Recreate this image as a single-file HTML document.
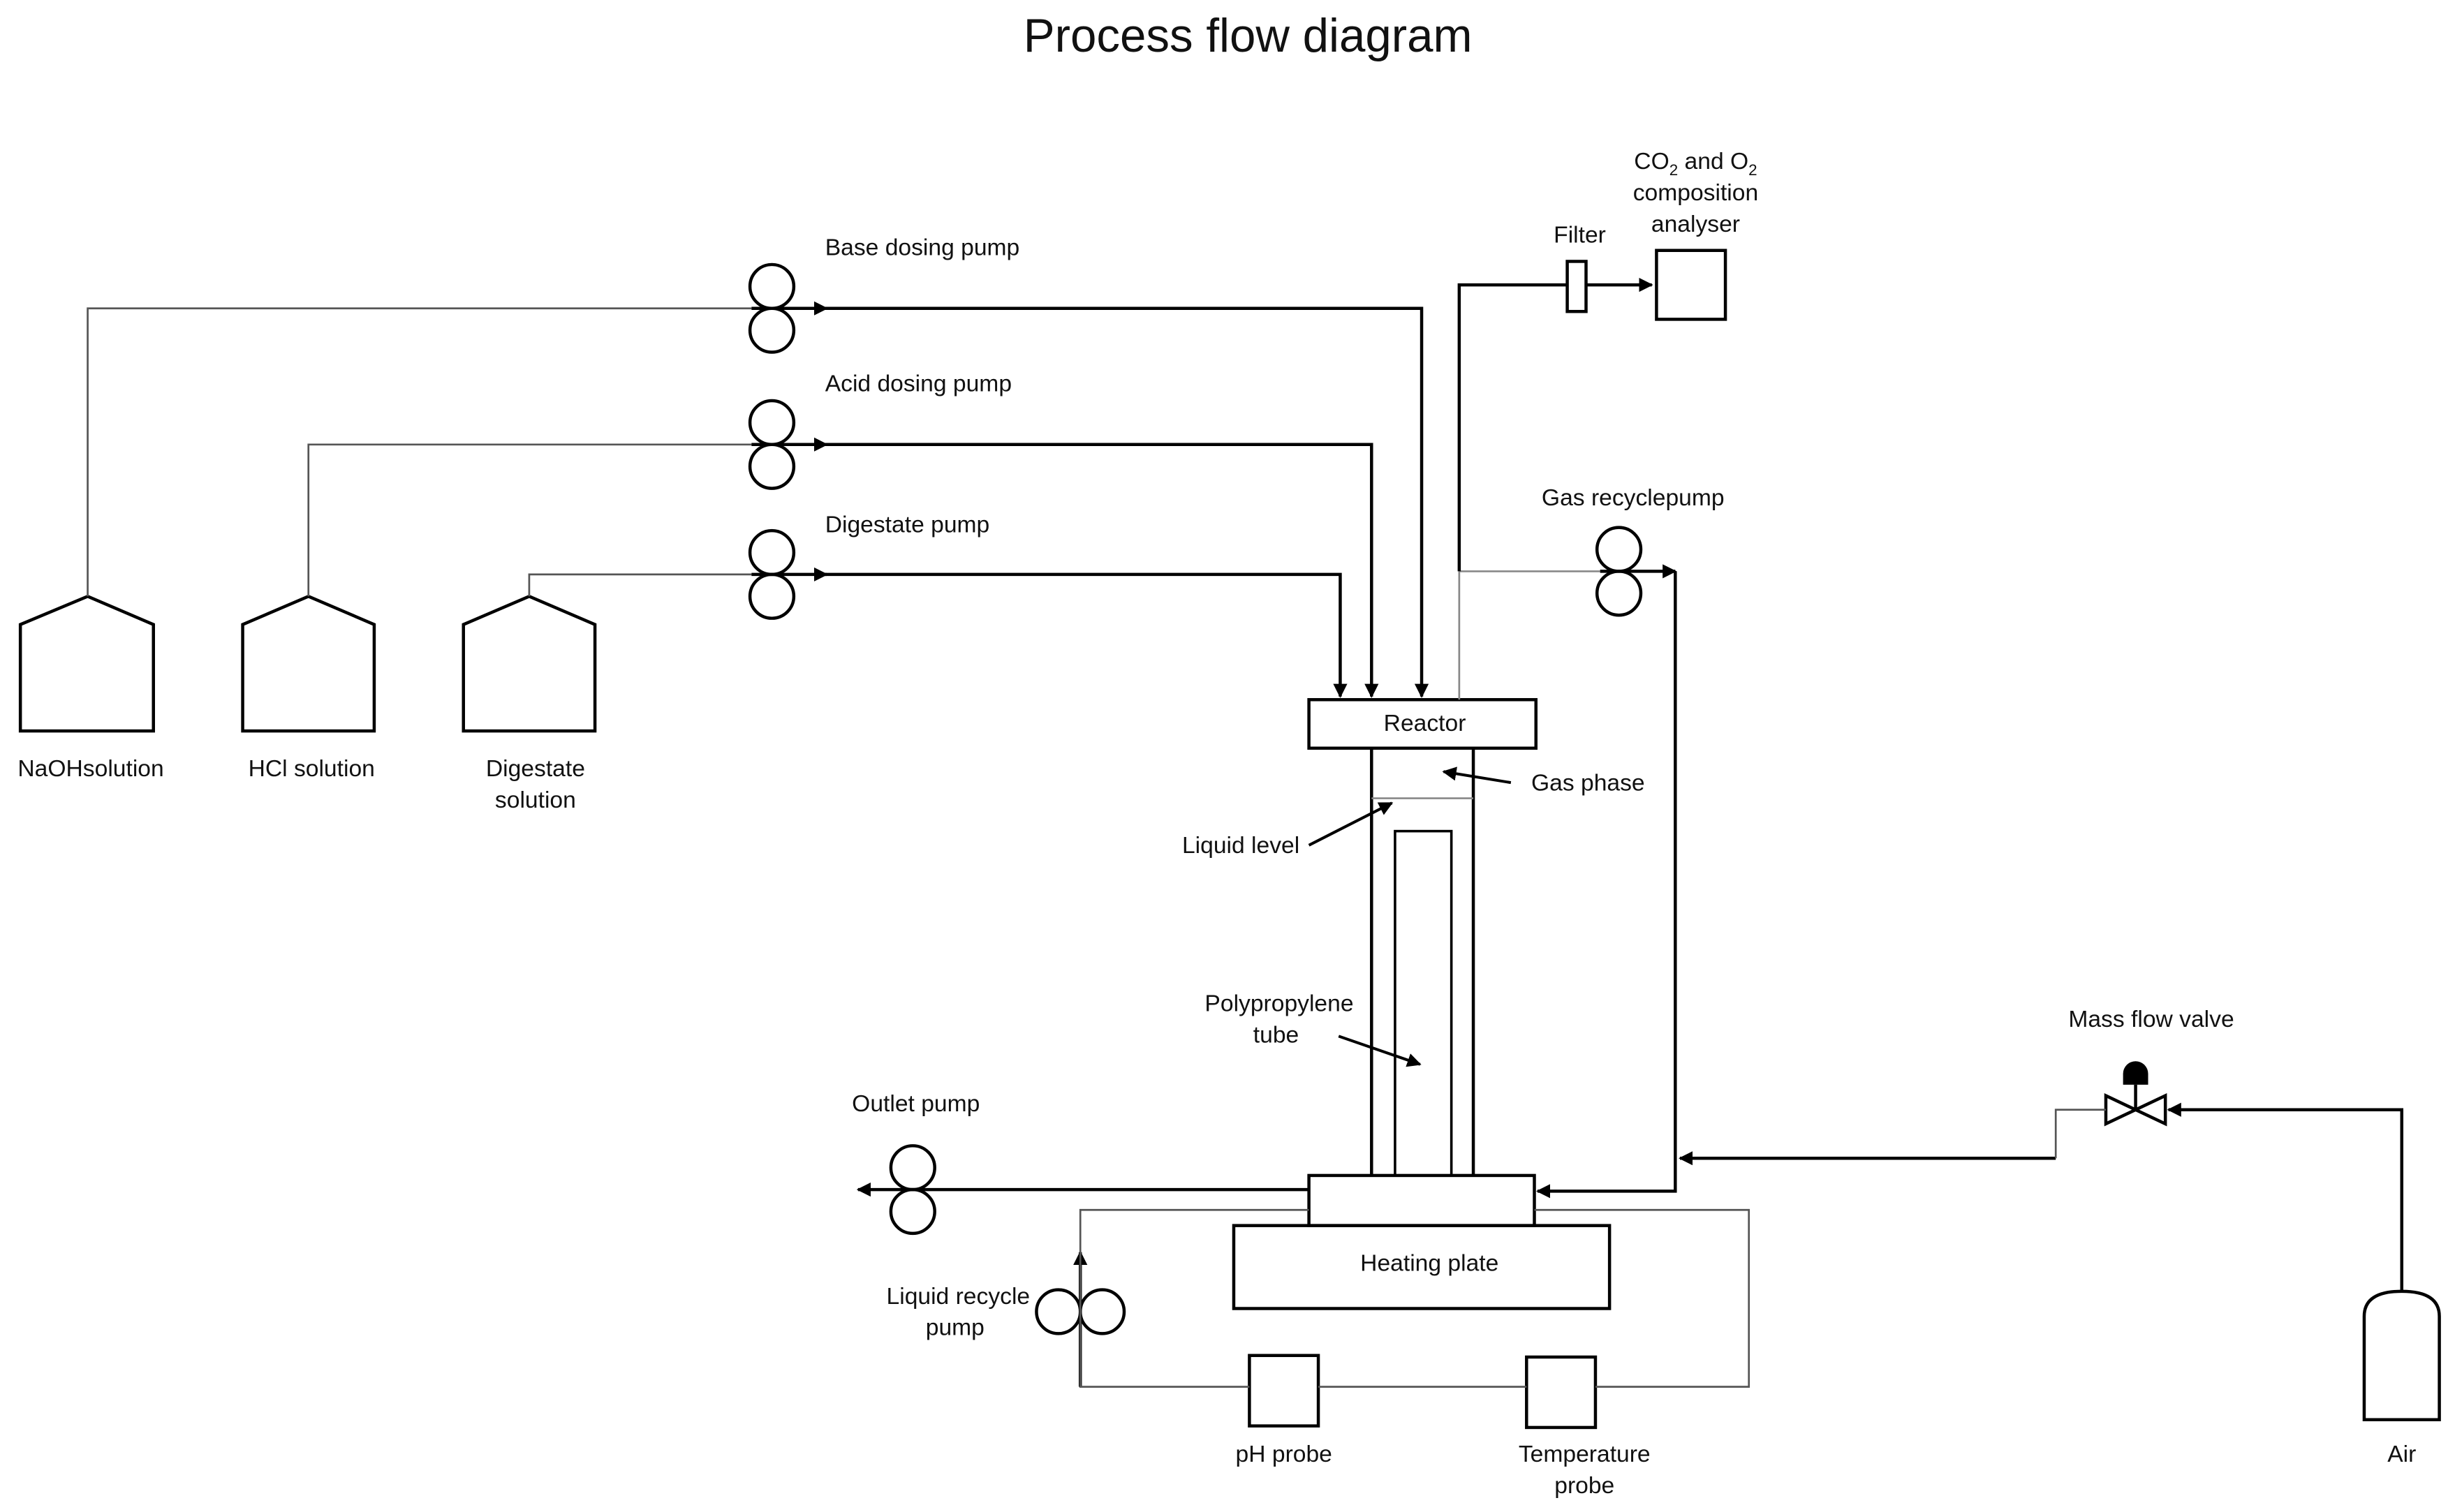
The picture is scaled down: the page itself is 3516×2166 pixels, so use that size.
<!DOCTYPE html>
<html><head><meta charset="utf-8"><style>
html,body{margin:0;padding:0;background:#fff;}
svg{display:block;}
text{font-family:"Liberation Sans",sans-serif;fill:#111;}
</style></head><body>
<svg width="3516" height="2166" viewBox="0 0 1568 966" preserveAspectRatio="none" xmlns="http://www.w3.org/2000/svg">
<defs>
<marker id="a" viewBox="0 0 10 10" refX="9" refY="5" markerWidth="9" markerHeight="9" markerUnits="userSpaceOnUse" orient="auto"><path d="M0,0L10,5L0,10z" fill="#000"/></marker>
</defs>
<rect width="1568" height="966" fill="#fff"/>
<text x="797" y="33" font-size="30" text-anchor="middle">Process flow diagram</text>

<g fill="none" stroke="#000" stroke-width="2">
<!-- tanks -->
<path d="M13,467V399L56,381L98,399V467Z"/>
<path d="M155,467V399L197,381L239,399V467Z"/>
<path d="M296,467V399L338,381L380,399V467Z"/>
</g>
<g fill="none" stroke="#555" stroke-width="1.2">
<path d="M56,381V197H480"/>
<path d="M197,381V284H480"/>
<path d="M338,381V367H480"/>
</g>
<g fill="none" stroke="#000" stroke-width="2">
<path d="M480,197H528" marker-end="url(#a)"/><path d="M525,197H908V445" marker-end="url(#a)"/>
<path d="M480,284H528" marker-end="url(#a)"/><path d="M525,284H876V445" marker-end="url(#a)"/>
<path d="M480,367H528" marker-end="url(#a)"/><path d="M525,367H856V445" marker-end="url(#a)"/>
<!-- pumps -->
<circle cx="493" cy="183" r="14"/><circle cx="493" cy="211" r="14"/>
<circle cx="493" cy="270" r="14"/><circle cx="493" cy="298" r="14"/>
<circle cx="493" cy="353" r="14"/><circle cx="493" cy="381" r="14"/>
<!-- reactor -->
<rect x="836" y="447" width="145" height="31"/>
<path d="M876,478V751M941,478V751"/>
<rect x="891" y="531" width="36" height="220" stroke-width="1.6"/>
<rect x="836" y="751" width="144" height="32"/>
<rect x="788" y="783" width="240" height="53"/>
<!-- label arrows -->
<path d="M965,500L922,493" marker-end="url(#a)" stroke-width="1.8"/>
<path d="M836,540L889,513" marker-end="url(#a)" stroke-width="1.8"/>
<path d="M855,662L907,680" marker-end="url(#a)" stroke-width="1.8"/>
</g>
<path d="M876,510H941" stroke="#888" stroke-width="1.2"/>

<!-- gas out -->
<path d="M932,447V365" stroke="#888" stroke-width="1.2" fill="none"/>
<path d="M932,365H1022" stroke="#888" stroke-width="1.2" fill="none"/>
<g fill="none" stroke="#000" stroke-width="2">
<path d="M932,365V182H1001"/>
<rect x="1001" y="167" width="12" height="32"/>
<path d="M1013,182H1055" marker-end="url(#a)"/>
<rect x="1058" y="160" width="44" height="44"/>
<circle cx="1034" cy="351" r="14"/><circle cx="1034" cy="379" r="14"/>
<path d="M1022,365H1070" marker-end="url(#a)"/>
<path d="M1070,365V761H982" marker-end="url(#a)"/>
<path d="M1313,740H1073" marker-end="url(#a)"/>
<!-- outlet -->
<path d="M836,760H548" marker-end="url(#a)"/>
<circle cx="583" cy="746" r="14"/><circle cx="583" cy="774" r="14"/>
<!-- recycle pump -->
<circle cx="676" cy="838" r="14"/><circle cx="704" cy="838" r="14"/>
<path d="M690,886V800" marker-end="url(#a)"/>
<rect x="798" y="866" width="44" height="45"/>
<rect x="975" y="867" width="44" height="45"/>
<!-- air -->
<path d="M1510,907V841Q1510,825 1534,825Q1558,825 1558,841V907Z"/>
<path d="M1534,825V709H1385" marker-end="url(#a)"/>
<path d="M1345,700L1383,718V700L1345,718Z"/>
<path d="M1364,709V693"/>
</g>
<path d="M1356,693V686A8,8 0 0 1 1372,686V693Z" fill="#000"/>
<g fill="none" stroke="#555" stroke-width="1.2">
<path d="M836,773H690V886H798M842,886H975M1019,886H1117V773H980"/>
<path d="M1345,709H1313V740"/>
</g>

<g font-size="15">
<text x="58" y="496" text-anchor="middle">NaOHsolution</text>
<text x="199" y="496" text-anchor="middle">HCl solution</text>
<text x="342" y="496" text-anchor="middle">Digestate</text>
<text x="342" y="516" text-anchor="middle">solution</text>
<text x="527" y="163">Base dosing pump</text>
<text x="527" y="250">Acid dosing pump</text>
<text x="527" y="340">Digestate pump</text>
<text x="910" y="467" text-anchor="middle">Reactor</text>
<text x="978" y="505">Gas phase</text>
<text x="755" y="545">Liquid level</text>
<text x="817" y="646" text-anchor="middle">Polypropylene</text>
<text x="815" y="666" text-anchor="middle">tube</text>
<text x="913" y="812" text-anchor="middle">Heating plate</text>
<text x="585" y="710" text-anchor="middle">Outlet pump</text>
<text x="612" y="833" text-anchor="middle">Liquid recycle</text>
<text x="610" y="853" text-anchor="middle">pump</text>
<text x="820" y="934" text-anchor="middle">pH probe</text>
<text x="1012" y="934" text-anchor="middle">Temperature</text>
<text x="1012" y="954" text-anchor="middle">probe</text>
<text x="1009" y="155" text-anchor="middle">Filter</text>
<text x="1083" y="108" text-anchor="middle">CO<tspan font-size="10" dy="4">2</tspan><tspan dy="-4"> and O</tspan><tspan font-size="10" dy="4">2</tspan></text>
<text x="1083" y="128" text-anchor="middle">composition</text>
<text x="1083" y="148" text-anchor="middle">analyser</text>
<text x="1043" y="323" text-anchor="middle">Gas recyclepump</text>
<text x="1374" y="656" text-anchor="middle">Mass flow valve</text>
<text x="1534" y="934" text-anchor="middle">Air</text>
</g>
</svg>
</body></html>
